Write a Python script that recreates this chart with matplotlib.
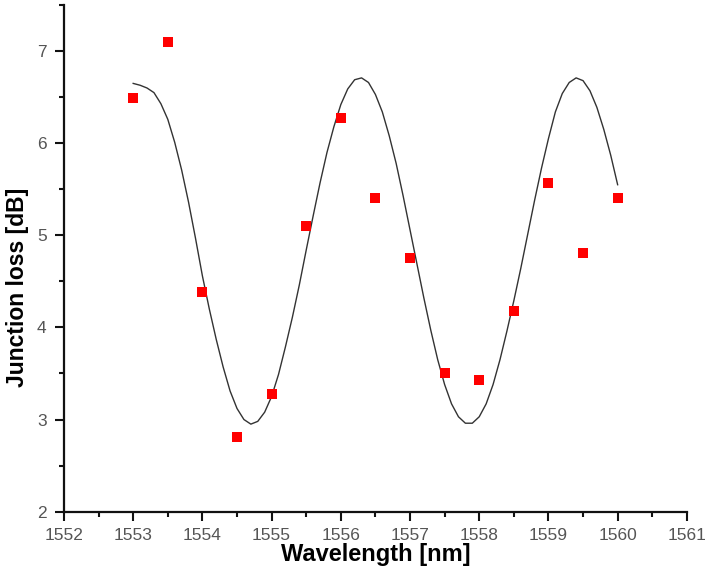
import matplotlib
matplotlib.use("Agg")
import matplotlib.pyplot as plt
from matplotlib.ticker import MultipleLocator

plt.rcParams['font.family'] = ['Liberation Sans', 'DejaVu Sans']

# measured points
wavelength = [1553.0, 1553.5, 1554.0, 1554.5, 1555.0, 1555.5, 1556.0, 1556.5,
              1557.0, 1557.5, 1558.0, 1558.5, 1559.0, 1559.5, 1560.0]
loss = [6.49, 7.10, 4.38, 2.81, 3.28, 5.10, 6.27, 5.41,
        4.75, 3.51, 3.43, 4.18, 5.57, 4.81, 5.41]

# fitted curve, every 0.1 nm
fit_x = [1553.0, 1553.1, 1553.2, 1553.3, 1553.4, 1553.5, 1553.6, 1553.7, 1553.8, 1553.9,
         1554.0, 1554.1, 1554.2, 1554.3, 1554.4, 1554.5, 1554.6, 1554.7, 1554.8, 1554.9,
         1555.0, 1555.1, 1555.2, 1555.3, 1555.4, 1555.5, 1555.6, 1555.7, 1555.8, 1555.9,
         1556.0, 1556.1, 1556.2, 1556.3, 1556.4, 1556.5, 1556.6, 1556.7, 1556.8, 1556.9,
         1557.0, 1557.1, 1557.2, 1557.3, 1557.4, 1557.5, 1557.6, 1557.7, 1557.8, 1557.9,
         1558.0, 1558.1, 1558.2, 1558.3, 1558.4, 1558.5, 1558.6, 1558.7, 1558.8, 1558.9,
         1559.0, 1559.1, 1559.2, 1559.3, 1559.4, 1559.5, 1559.6, 1559.7, 1559.8, 1559.9,
         1560.0]
fit_y = [6.65, 6.63, 6.60, 6.55, 6.43, 6.26, 6.01, 5.71, 5.36, 4.97,
         4.56, 4.20, 3.87, 3.57, 3.31, 3.12, 3.00, 2.95, 2.98, 3.08,
         3.25, 3.49, 3.79, 4.11, 4.46, 4.84, 5.21, 5.57, 5.90, 6.18,
         6.42, 6.59, 6.69, 6.71, 6.66, 6.53, 6.34, 6.08, 5.78, 5.43,
         5.06, 4.69, 4.32, 3.97, 3.65, 3.38, 3.17, 3.03, 2.96, 2.96,
         3.03, 3.17, 3.38, 3.65, 3.96, 4.29, 4.64, 5.01, 5.38, 5.73,
         6.05, 6.34, 6.54, 6.66, 6.71, 6.68, 6.57, 6.39, 6.15, 5.87,
         5.55]

fig = plt.figure(figsize=(7.07, 5.71), dpi=100)
ax = fig.add_axes([0.0905, 0.104, 0.881, 0.887])

ax.plot(fit_x, fit_y, color='#333333', linewidth=1.0)
ax.plot(wavelength, loss, linestyle='none', marker='s', markersize=6.5,
        color='#ff0000', markeredgewidth=0)

ax.set_xlim(1552, 1561)
ax.set_ylim(2, 7.5)
ax.xaxis.set_major_locator(MultipleLocator(1))
ax.xaxis.set_minor_locator(MultipleLocator(0.5))
ax.yaxis.set_major_locator(MultipleLocator(1))
ax.yaxis.set_minor_locator(MultipleLocator(0.5))

for side in ['top', 'right']:
    ax.spines[side].set_visible(False)
for side in ['left', 'bottom']:
    ax.spines[side].set_linewidth(1.6)
    ax.spines[side].set_color('#111111')

ax.tick_params(which='major', direction='out', length=6.5, width=1.5,
               labelsize=12.5, labelcolor='#555555', color='#111111')
ax.tick_params(which='minor', direction='out', length=3.5, width=1.5,
               color='#111111')
ax.tick_params(axis='x', which='major', pad=5)
ax.tick_params(axis='y', which='major', pad=6)

ax.set_xlabel('Wavelength [nm]', fontsize=17, fontweight='bold', labelpad=0)
ax.set_ylabel('Junction loss [dB]', fontsize=16.5, fontweight='bold')
ax.yaxis.set_label_coords(-0.056, 0.443)

fig.savefig('out.png', dpi=100)
